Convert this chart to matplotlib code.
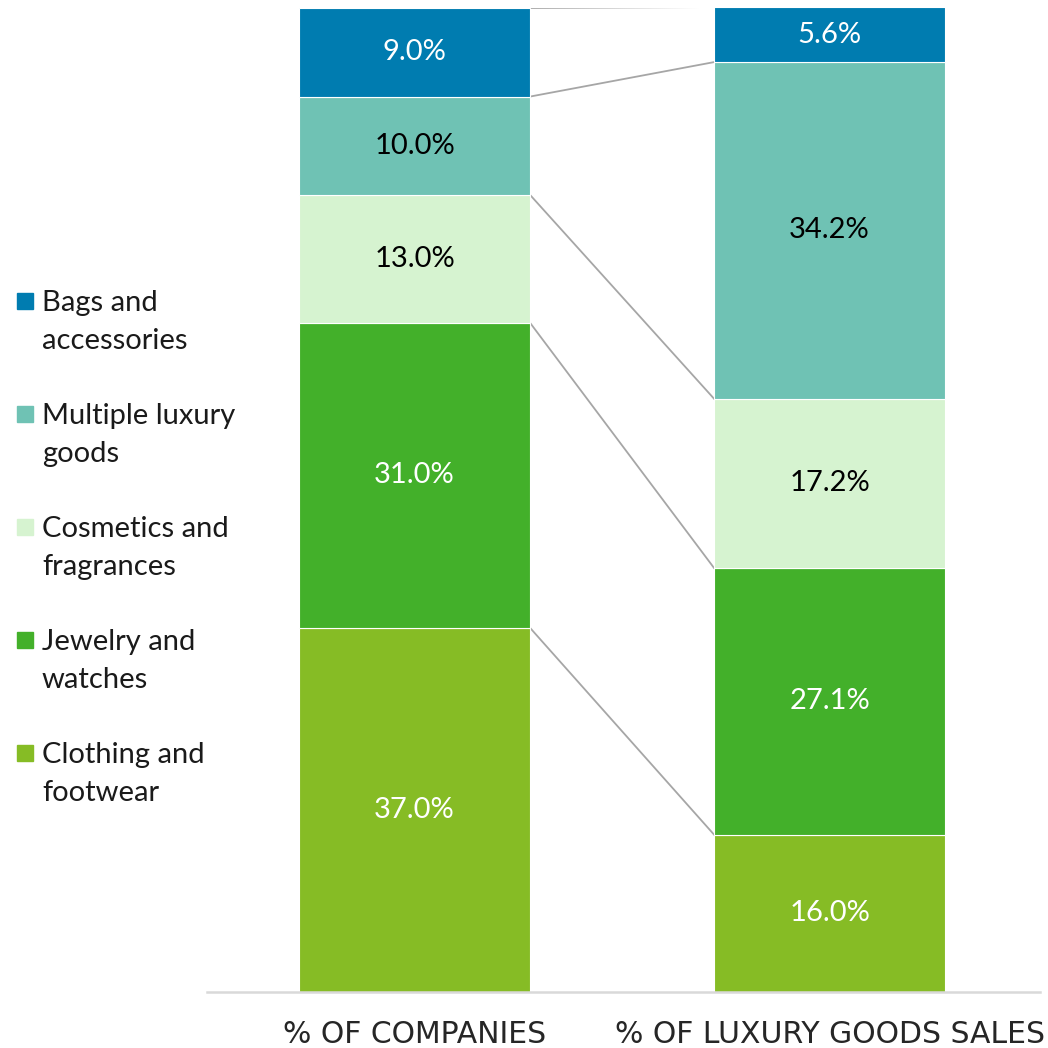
import numpy as np
import matplotlib.pyplot as plt
from matplotlib.patches import Rectangle

# Categories bottom -> top
categories = ['Clothing and\nfootwear', 'Jewelry and\nwatches', 'Cosmetics and\nfragrances',
              'Multiple luxury\ngoods', 'Bags and\naccessories']
groups = ['% OF COMPANIES', '% OF LUXURY GOODS SALES']
pct_companies = [37.0, 31.0, 13.0, 10.0, 9.0]
pct_sales = [16.0, 27.1, 17.2, 34.2, 5.6]
colors = ['#86BC25', '#43B02A', '#D6F3D0', '#6FC2B4', '#007CB0']
label_colors = ['white', 'white', 'black', 'black', 'white']

plt.rcParams['font.family'] = ['Lato', 'DejaVu Sans']

W = H = 1048
fig = plt.figure(figsize=(10.48, 10.48), dpi=100)
ax = fig.add_axes([207 / W, 1 - 992 / H, (1040 - 207) / W, (992 - 8) / H])

x = np.arange(len(groups))
width = 0.557
data = np.array([pct_companies, pct_sales])

bottoms = np.zeros(2)
for i, cat in enumerate(categories):
    vals = data[:, i]
    ax.bar(x, vals, width, bottom=bottoms, color=colors[i],
           edgecolor='white', linewidth=0.8, label=cat, zorder=2)
    for xi, v, b in zip(x, vals, bottoms):
        ax.text(xi, b + v / 2, f'{v:.1f}%', ha='center', va='center',
                fontsize=21, color=label_colors[i], zorder=3)
    bottoms = bottoms + vals

# connector lines between segment tops
cum = np.cumsum(data, axis=1)
for j in range(len(categories)):
    ax.plot([x[0] + width / 2, x[1] - width / 2], [cum[0, j], cum[1, j]],
            color='#A6A6A6', linewidth=1.3, zorder=1)

ax.set_xlim(-0.5, 1.507)
ax.set_ylim(0, 100)
ax.set_yticks([])
ax.set_xticks(x)
ax.set_xticklabels(groups, fontsize=21.5, color='#262626',
                   family=['Liberation Sans Narrow', 'DejaVu Sans'])
ax.tick_params(axis='x', length=0, pad=20)
for s in ['top', 'right', 'left']:
    ax.spines[s].set_visible(False)
ax.spines['bottom'].set_color('#D9D9D9')
ax.spines['bottom'].set_linewidth(1.8)

# legend on the left, top entry first, square aligned with the first line
for k, i in enumerate(range(len(categories) - 1, -1, -1)):
    yc = 301 + 113 * k
    fig.add_artist(Rectangle((17 / W, 1 - (yc + 8) / H), 16 / W, 16 / H,
                             transform=fig.transFigure, color=colors[i]))
    fig.text(42 / W, 1 - (yc - 11) / H, categories[i], ha='left', va='top',
             fontsize=21, color='#1a1a1a', linespacing=1.55)

fig.savefig('out.png', dpi=100)
